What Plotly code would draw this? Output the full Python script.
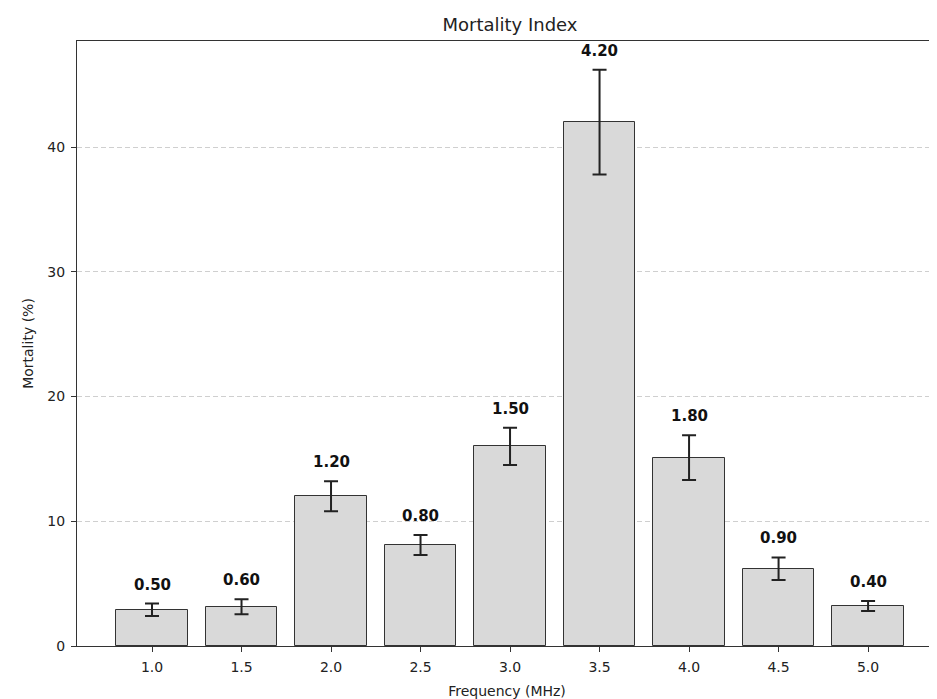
import plotly.graph_objects as go

frequencies = [1.0, 1.5, 2.0, 2.5, 3.0, 3.5, 4.0, 4.5, 5.0]
mortality = [2.9, 3.15, 12.0, 8.1, 16.0, 42.0, 15.1, 6.2, 3.2]
errors = [0.50, 0.60, 1.20, 0.80, 1.50, 4.20, 1.80, 0.90, 0.40]
x_ticks = [1.0, 1.5, 2.0, 2.5, 3.0, 3.5, 4.0, 4.5, 5.0]
y_ticks = [0, 10, 20, 30, 40]

FONT = "DejaVu Sans"
# the page body has an 8px default margin; the figure is sized to fill the rest
W, H = 929, 691

fig = go.Figure()
fig.add_trace(go.Bar(
    x=frequencies,
    y=mortality,
    width=0.4,
    marker=dict(color="#d9d9d9", line=dict(color="#333333", width=1)),
    error_y=dict(type="data", array=errors, visible=True,
                 color="#222222", thickness=2, width=7),
    showlegend=False,
))

for xv, yv, ev in zip(frequencies, mortality, errors):
    fig.add_annotation(
        x=xv, y=yv + ev, text=f"<b>{ev:.2f}</b>", showarrow=False,
        yanchor="bottom", yshift=8,
        font=dict(family=FONT, size=15, color="#111111"),
    )

fig.update_layout(
    width=W, height=H,
    margin=dict(l=69, r=0, t=33, b=53),
    paper_bgcolor="white", plot_bgcolor="white",
    font=dict(family=FONT, size=14, color="#222222"),
    title=dict(text="Mortality Index", xref="container", yref="container",
               x=502 / W, y=1 - 17 / H, xanchor="center", yanchor="middle",
               font=dict(family=FONT, size=18, color="#222222")),
    bargap=0,
)
fig.update_xaxes(
    range=[0.581, 5.385],
    tickvals=x_ticks, ticktext=[f"{v:.1f}" for v in x_ticks],
    ticks="outside", ticklen=5, tickcolor="#333333", ticklabelstandoff=3,
    showline=True, linecolor="#333333", linewidth=1, mirror=True,
    showgrid=False, zeroline=False,
    title=dict(text="Frequency (MHz)", font=dict(size=14), standoff=13),
    automargin=False,
)
fig.update_yaxes(
    range=[0, 48.5],
    tickvals=y_ticks,
    ticks="outside", ticklen=5, tickcolor="#333333", ticklabelstandoff=3,
    showline=True, linecolor="#333333", linewidth=1, mirror=False,
    showgrid=True, gridcolor="#cfcfcf", griddash="5px,3px", gridwidth=1,
    zeroline=False,
    title=dict(text="Mortality (%)", font=dict(size=14), standoff=10),
    automargin=False,
)

fig.write_html("out.html")
